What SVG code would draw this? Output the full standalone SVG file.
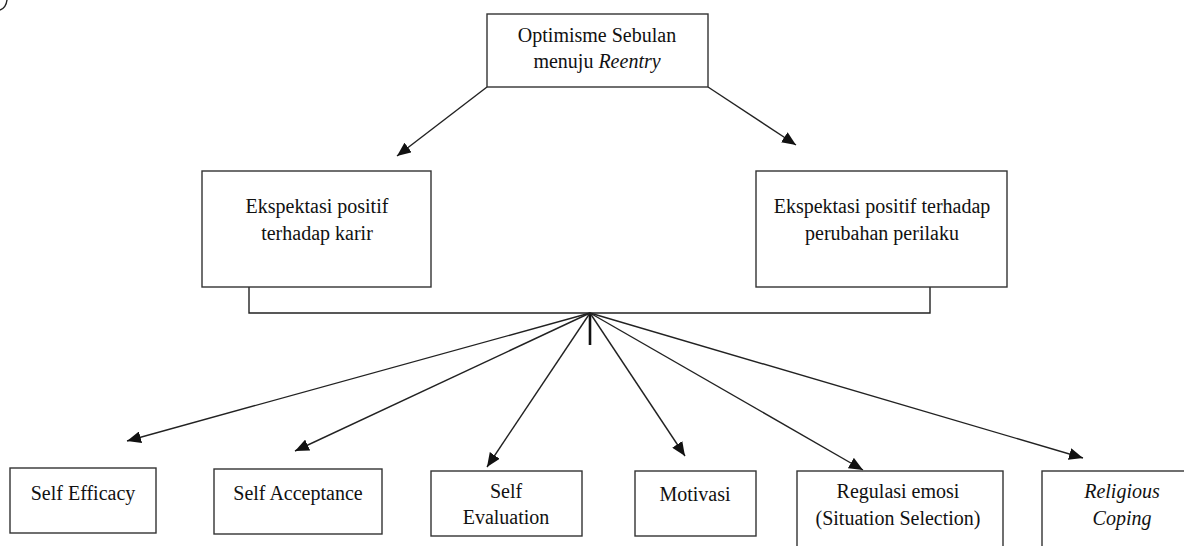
<svg xmlns="http://www.w3.org/2000/svg" width="1184" height="546" viewBox="0 0 1184 546">
<style>
.box{fill:#fff;stroke:#333;stroke-width:1.4}
.t{font-family:"Liberation Serif","Times New Roman",serif;font-size:20px;fill:#111;text-anchor:middle}
.i{font-style:italic}
.c{stroke:#222;stroke-width:1.4;fill:none}
</style>
<defs>
<marker id="ah" markerUnits="userSpaceOnUse" markerWidth="16" markerHeight="12" refX="14" refY="6" orient="auto">
<path d="M0,0 L14,6 L0,12 z" fill="#111"/>
</marker>
</defs>
<rect width="1184" height="546" fill="#fff"/>
<path d="M0,10 Q6,8 7,0" class="c" stroke-width="1.2"/>
<g id="connectors">
<line x1="487" y1="87" x2="397" y2="156" class="c" marker-end="url(#ah)"/>
<line x1="708" y1="87" x2="796" y2="145" class="c" marker-end="url(#ah)"/>
<polyline points="249,287 249,313 930,313 930,287" class="c"/>
<line x1="590" y1="313" x2="590" y2="345" stroke="#111" stroke-width="2.6"/>
<line x1="590" y1="313" x2="127" y2="441" class="c" marker-end="url(#ah)"/>
<line x1="590" y1="313" x2="295" y2="451" class="c" marker-end="url(#ah)"/>
<line x1="590" y1="313" x2="487" y2="467" class="c" marker-end="url(#ah)"/>
<line x1="590" y1="313" x2="685" y2="456" class="c" marker-end="url(#ah)"/>
<line x1="590" y1="313" x2="863" y2="470" class="c" marker-end="url(#ah)"/>
<line x1="590" y1="313" x2="1083" y2="458" class="c" marker-end="url(#ah)"/>
</g>
<g id="optimisme">
<rect x="487" y="14" width="221" height="73" class="box"/>
<text x="597" y="42" class="t">Optimisme Sebulan</text>
<text x="597" y="68" class="t">menuju <tspan class="i">Reentry</tspan></text>
</g>
<g id="karir">
<rect x="202" y="171" width="229" height="116" class="box"/>
<text x="317" y="213" class="t">Ekspektasi positif</text>
<text x="317" y="240" class="t">terhadap karir</text>
</g>
<g id="perilaku">
<rect x="756" y="171" width="251" height="116" class="box"/>
<text x="882" y="213" class="t">Ekspektasi positif terhadap</text>
<text x="882" y="240" class="t">perubahan perilaku</text>
</g>
<g id="self-efficacy">
<rect x="10" y="468" width="146" height="65" class="box"/>
<text x="83" y="500" class="t">Self Efficacy</text>
</g>
<g id="self-acceptance">
<rect x="214" y="469" width="168" height="65" class="box"/>
<text x="298" y="500" class="t">Self Acceptance</text>
</g>
<g id="self-evaluation">
<rect x="431" y="471" width="151" height="65" class="box"/>
<text x="506" y="498" class="t">Self</text>
<text x="506" y="524" class="t">Evaluation</text>
</g>
<g id="motivasi">
<rect x="635" y="471" width="121" height="65" class="box"/>
<text x="695" y="501" class="t">Motivasi</text>
</g>
<g id="regulasi">
<rect x="797" y="471" width="206" height="90" class="box"/>
<text x="898" y="498" class="t">Regulasi emosi</text>
<text x="898" y="525" class="t">(Situation Selection)</text>
</g>
<g id="religious">
<rect x="1042" y="471" width="160" height="90" class="box"/>
<text x="1122" y="498" class="t i">Religious</text>
<text x="1122" y="525" class="t i">Coping</text>
</g>
</svg>
